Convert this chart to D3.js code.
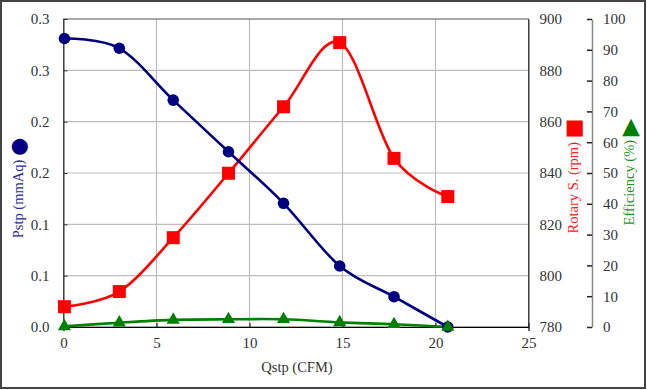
<!DOCTYPE html>
<html><head><meta charset="utf-8">
<script src="https://cdn.jsdelivr.net/npm/d3@7"></script>
<style>body{margin:0;background:#fff}svg{display:block}text{font-family:"Liberation Serif","DejaVu Serif",serif}</style>
</head><body><svg id="c" width="647" height="390"></svg>
<script>
const qstp = [0.05, 3.0, 5.9, 8.87, 11.83, 14.85, 17.77, 20.66];
const pstp = [0.281, 0.2715, 0.221, 0.1707, 0.1205, 0.0594, 0.0295, 0.0];
const rpm = [787.9, 793.8, 814.8, 839.9, 865.8, 890.8, 845.7, 830.8];
const eff = [0.2, 1.4, 2.3, 2.5, 2.5, 1.5, 0.9, 0.0];
const xTicks = [0, 5, 10, 15, 20, 25];
const pTicks = [0, 0.05, 0.1, 0.15, 0.2, 0.25, 0.3];
const pTickLabels = ["0.0", "0.1", "0.1", "0.2", "0.2", "0.3", "0.3"];
const rTicks = [780, 800, 820, 840, 860, 880, 900];
const eTicks = [0, 10, 20, 30, 40, 50, 60, 70, 80, 90, 100];

const svg = d3.select("#c");
const FONT = '"Liberation Serif","DejaVu Serif",serif';
const L = 63.5, R = 528.5, T = 19, B = 327;
const x = d3.scaleLinear().domain([0, 25]).range([L, R]);
const yP = d3.scaleLinear().domain([0, 0.3]).range([B, T]);
const yR = d3.scaleLinear().domain([780, 900]).range([B, T]);
const yE = d3.scaleLinear().domain([0, 100]).range([B, T]);

svg.append("rect").attr("x", 1).attr("y", 1).attr("width", 644).attr("height", 387)
  .attr("fill", "#fff").attr("stroke", "#444").attr("stroke-width", 2);

// grid
const g = svg.append("g");
g.selectAll(".gx").data(xTicks.slice(1, -1)).join("line")
  .attr("x1", d => x(d)).attr("x2", d => x(d)).attr("y1", T).attr("y2", B)
  .attr("stroke", "#bdbdbd").attr("stroke-width", 1.2);
g.selectAll(".gy").data(pTicks.slice(1, -1)).join("line")
  .attr("x1", L).attr("x2", R).attr("y1", d => yP(d)).attr("y2", d => yP(d))
  .attr("stroke", "#bdbdbd").attr("stroke-width", 1.2);
svg.append("rect").attr("x", L).attr("y", T).attr("width", R - L).attr("height", B - T)
  .attr("fill", "none").attr("stroke", "#555").attr("stroke-width", 1);

const tickFont = 15, tickCol = "#333";
function styleAxis(a) {
  a.attr("font-family", FONT).attr("font-size", tickFont);
  a.selectAll("text").attr("fill", tickCol).attr("font-family", FONT);
}
// x axis
const xa = svg.append("g").attr("transform", `translate(0,${B})`)
  .call(d3.axisBottom(x).tickValues(xTicks).tickSize(4).tickFormat(d3.format("d")));
styleAxis(xa);
xa.select(".domain").attr("stroke", "#000").attr("stroke-width", 1.2);
xa.selectAll(".tick line").attr("stroke", "#000").attr("y2", -4);
xa.selectAll("text").attr("dy", "0.95em").attr("y", 7);

// left axis
const la = svg.append("g").attr("transform", `translate(${L},0)`)
  .call(d3.axisLeft(yP).tickValues(pTicks).tickSize(0).tickPadding(14).tickFormat((d, i) => pTickLabels[i]));
styleAxis(la);
la.select(".domain").attr("stroke", "#333");
la.selectAll(".tick").append("line").attr("x1", 0).attr("x2", 4).attr("stroke", "#333");

// right rpm axis
const ra = svg.append("g").attr("transform", `translate(${R},0)`)
  .call(d3.axisRight(yR).tickValues(rTicks).tickSize(0).tickPadding(11).tickFormat(d3.format("d")));
styleAxis(ra);
ra.select(".domain").attr("stroke", "#333");

// efficiency axis
const EX = 592;
const ea = svg.append("g").attr("transform", `translate(${EX},0)`)
  .call(d3.axisRight(yE).tickValues(eTicks).tickSize(0).tickPadding(11).tickFormat(d3.format("d")));
styleAxis(ea);
ea.select(".domain").attr("stroke", "#888").attr("stroke-width", 1.5);
ea.selectAll(".tick").append("line").attr("x1", -5).attr("x2", 0).attr("stroke", "#222").attr("stroke-width", 1.5);

// series
const curve = d3.curveCardinal.tension(0);
const pts = (ys) => qstp.map((q, i) => [q, ys[i]]);
function drawLine(ys, ysc, color) {
  svg.append("path").datum(pts(ys))
    .attr("d", d3.line().x(d => x(d[0])).y(d => ysc(d[1])).curve(curve))
    .attr("fill", "none").attr("stroke", color).attr("stroke-width", 2.6);
}
drawLine(rpm, yR, "#ff0000");
drawLine(eff, yE, "#008000");
drawLine(pstp, yP, "#000080");

svg.selectAll(".sq").data(pts(rpm)).join("rect")
  .attr("x", d => x(d[0]) - 6.5).attr("y", d => yR(d[1]) - 6.5)
  .attr("width", 13).attr("height", 13).attr("fill", "#ff0000");
svg.selectAll(".ci").data(pts(pstp)).join("circle")
  .attr("cx", d => x(d[0])).attr("cy", d => yP(d[1])).attr("r", 5.8).attr("fill", "#000080");
const tri = d3.symbol().type(d3.symbolTriangle).size(75);
svg.selectAll(".tr").data(pts(eff)).join("path")
  .attr("d", tri).attr("transform", d => `translate(${x(d[0])},${yE(d[1])})`).attr("fill", "#008000");

// titles
svg.append("text").attr("x", 297).attr("y", 372).attr("text-anchor", "middle")
  .attr("font-size", 14.5).attr("fill", "#333").text("Qstp (CFM)");

const lt = svg.append("text").attr("transform", "translate(23,188) rotate(-90)")
  .attr("text-anchor", "middle").attr("font-size", 14.5);
lt.append("tspan").attr("fill", "#2b2ba0").text("Pstp (mmAq) ");
lt.append("tspan").attr("fill", "#000080").attr("font-family", "DejaVu Sans").attr("font-size", 21).attr("dy", 2).text("●");

const rt = svg.append("text").attr("transform", "translate(578,176) rotate(-90)")
  .attr("text-anchor", "middle").attr("font-size", 14.5);
rt.append("tspan").attr("fill", "#ff2020").text("Rotary S. (rpm) ");
rt.append("tspan").attr("fill", "#ff0000").attr("font-family", "DejaVu Sans").attr("font-size", 21).attr("dy", 2).text("■");

const et = svg.append("text").attr("transform", "translate(634,172) rotate(-90)")
  .attr("text-anchor", "middle").attr("font-size", 14.5);
et.append("tspan").attr("fill", "#1e961e").text("Efficiency (%) ");
et.append("tspan").attr("fill", "#008000").attr("font-family", "DejaVu Sans").attr("font-size", 23).attr("dy", 3).text("▶");
</script></body></html>
